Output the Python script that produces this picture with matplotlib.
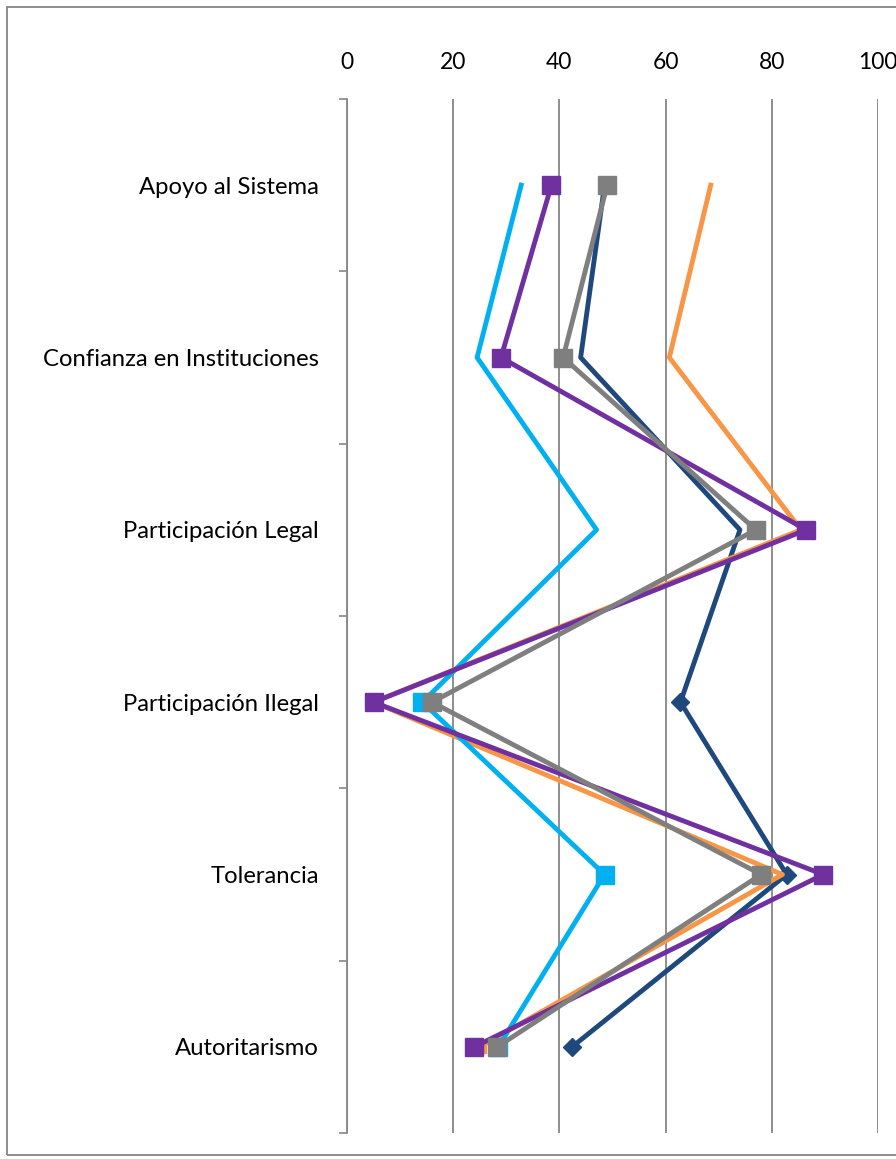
"""
plot.py

Horizontal-profile line chart (Excel style): values 0-100 on a top axis,
six categories running down the page.
"""

import matplotlib
matplotlib.use("Agg")

import matplotlib.pyplot as plt
from matplotlib.patches import Rectangle

plt.rcParams["font.family"] = ["Lato", "DejaVu Sans"]

categories = [
    "Apoyo al Sistema",
    "Confianza en Instituciones",
    "Participación Legal",
    "Participación Ilegal",
    "Tolerancia",
    "Autoritarismo",
]
x_ticks = [0, 20, 40, 60, 80, 100]

serie_azul = [48.5, 44.0, 74.0, 62.8, 82.8, 42.4]
serie_naranja = [68.5, 60.7, 85.5, 5.0, 82.0, 25.0]
serie_celeste = [32.8, 24.5, 47.0, 14.2, 48.5, 28.5]
serie_morada = [38.5, 29.0, 86.5, 5.0, 89.7, 24.0]
serie_gris = [49.0, 40.7, 77.0, 16.0, 78.0, 28.3]

COLOR_AZUL = "#1F497D"
COLOR_NARANJA = "#F79646"
COLOR_CELESTE = "#00B0F0"
COLOR_MORADO = "#7030A0"
COLOR_GRIS = "#7F7F7F"
COLOR_EJE = "#868686"

W, H = 896, 1159
fig = plt.figure(figsize=(W / 100, H / 100), dpi=100)
ax = fig.add_axes([347 / W, 1 - 1133 / H, (878 - 347) / W, (1133 - 99) / H])

pos = list(range(len(categories)))
lw = 3.5
last3 = [3, 4, 5]

ax.plot(serie_azul, pos, color=COLOR_AZUL, lw=lw, marker="D", ms=9,
        markevery=last3, zorder=3)
ax.plot(serie_naranja, pos, color=COLOR_NARANJA, lw=lw, marker="s", ms=9,
        markevery=[5], zorder=3)
ax.plot(serie_celeste, pos, color=COLOR_CELESTE, lw=lw, marker="s", ms=12.5,
        markevery=last3, zorder=3)
ax.plot(serie_morada, pos, color=COLOR_MORADO, lw=lw, marker="s", ms=12.5, zorder=4)
ax.plot(serie_gris, pos, color=COLOR_GRIS, lw=lw, marker="s", ms=12.5, zorder=5)

ax.set_xlim(0, 100)
ax.set_ylim(len(categories) - 0.5, -0.5)

ax.xaxis.tick_top()
ax.set_xticks(x_ticks)
ax.tick_params(axis="x", length=0, pad=19, labelsize=16.5)
ax.grid(axis="x", color=COLOR_EJE, lw=1.3)
ax.set_axisbelow(True)

ax.set_yticks(pos)
ax.set_yticklabels(categories)
ax.set_yticks([p - 0.5 for p in range(len(categories) + 1)], minor=True)
ax.tick_params(axis="y", which="major", length=0, pad=20, labelsize=17.2)
ax.tick_params(axis="y", which="minor", length=6, width=1.2, color=COLOR_EJE,
               direction="out")

for side in ("top", "right", "bottom"):
    ax.spines[side].set_visible(False)
ax.spines["left"].set_color(COLOR_EJE)
ax.spines["left"].set_linewidth(1.3)

# outer chart border, runs off the right edge like the original crop
fig.add_artist(Rectangle((7 / W, 1 - 1155 / H), 1.0, (1155 - 7) / H,
                         transform=fig.transFigure, fill=False,
                         edgecolor=COLOR_EJE, lw=1.3))

fig.savefig("out.png", dpi=100)
